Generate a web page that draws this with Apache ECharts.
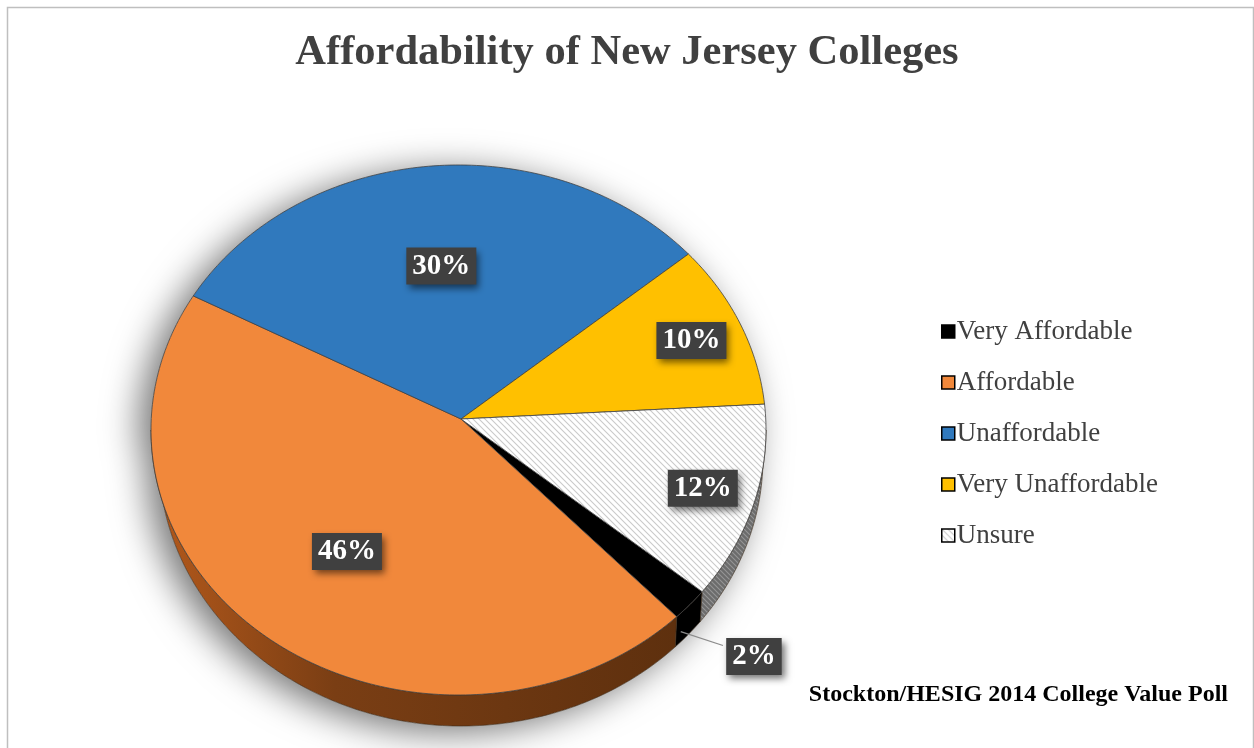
<!DOCTYPE html>
<html>
<head>
<meta charset="utf-8">
<script src="https://cdn.jsdelivr.net/npm/echarts@6/dist/echarts.min.js"></script>
<style>
  html, body { margin: 0; padding: 0; background: #ffffff; }
  #chart { width: 1254px; height: 748px; }
</style>
</head>
<body>
<div id="chart"></div>
<script>
// Survey answers and their shares (percent)
const categories = ['Very Affordable', 'Affordable', 'Unaffordable', 'Very Unaffordable', 'Unsure'];
const shares = [2, 46, 30, 10, 12];

// Pie geometry (pixels / degrees, clockwise from 3 o'clock)
const START_ANGLE = 37.6;
const TOP = { cx: 458.5, cy: 430, rx: 307.5, ry: 265 };   // upper face
const BOT = { cx: 461, cy: 458, rx: 302, ry: 268 };       // lower rim
const APEX = { x: 461, y: 419 };                          // where the slices meet
// how far out along each slice's middle the value box sits (1 = rim)
const labelReach = [1.28, 0.6, 0.605, 0.825, 0.825];

function hatch(bg, line, size, width) {
  const c = document.createElement('canvas');
  c.width = c.height = size;
  const g = c.getContext('2d');
  g.fillStyle = bg; g.fillRect(0, 0, size, size);
  g.strokeStyle = line; g.lineWidth = width;
  g.beginPath();
  g.moveTo(-1, -1); g.lineTo(size + 1, size + 1);
  g.moveTo(-1, size - 1); g.lineTo(1, size + 1);
  g.moveTo(size - 1, -1); g.lineTo(size + 1, 1);
  g.stroke();
  return c;
}

const unsureTop = { image: hatch('#ffffff', '#cacaca', 6, 1.1), repeat: 'repeat' };
const unsureSide = { image: hatch('#6c6c6c', '#959595', 5, 1.1), repeat: 'repeat' };

const topFill = ['#000000', '#F1883B', '#3079BD', '#FFC000', unsureTop];
const sideFill = [
  '#000000',
  { type: 'linear', x: 0, y: 0, x2: 1, y2: 0, global: false,
    colorStops: [{ offset: 0, color: '#b4591b' }, { offset: 0.35, color: '#7a3e14' }, { offset: 1, color: '#5e300e' }] },
  '#1d4f7f', '#b58800', unsureSide
];

// cumulative angles for each slice
const startAngles = [], endAngles = [];
(function () {
  const total = shares.reduce((a, b) => a + b, 0);
  let a = START_ANGLE;
  shares.forEach(v => { startAngles.push(a); a += v / total * 360; endAngles.push(a); });
})();

const rad = d => d * Math.PI / 180;
const onTop = t => [TOP.cx + TOP.rx * Math.cos(rad(t)), TOP.cy + TOP.ry * Math.sin(rad(t))];
const onBot = t => [BOT.cx + BOT.rx * Math.cos(rad(t)), BOT.cy + BOT.ry * Math.sin(rad(t))];
function arc(fn, a, b) {
  const n = Math.max(2, Math.ceil(Math.abs(b - a)));
  const pts = [];
  for (let k = 0; k <= n; k++) pts.push(fn(a + (b - a) * k / n));
  return pts;
}

function renderSlice(params, api) {
  const i = params.seriesIndex;
  const s = api.value(0), e = api.value(1), v = api.value(2);
  const children = [];

  // soft shadow under the whole pie
  if (i === 0) {
    const outline = arc(onTop, 180, 360).concat(arc(onBot, 0, 180));
    children.push({
      type: 'polygon', z2: -10, shape: { points: outline },
      style: { fill: '#ffffff', shadowBlur: 36, shadowColor: 'rgba(0,0,0,0.55)', shadowOffsetX: -12, shadowOffsetY: 6 }
    });
  }

  // visible wall (front half only)
  [[0, 180], [360, 540]].forEach(([lo, hi]) => {
    const a = Math.max(s, lo), b = Math.min(e, hi);
    if (b > a) {
      const pts = arc(onTop, a, b).concat(arc(onBot, b, a));
      children.push({
        type: 'polygon', z2: 0, shape: { points: pts },
        style: { fill: sideFill[i], stroke: '#3a2a1a', lineWidth: 0.6 }
      });
    }
  });

  // upper face
  const face = [[APEX.x, APEX.y]].concat(arc(onTop, s, e));
  children.push({
    type: 'polygon', z2: 10, shape: { points: face },
    style: { fill: topFill[i], stroke: '#404040', lineWidth: 0.8, lineJoin: 'round' }
  });

  // value box
  const mid = (s + e) / 2;
  const rim = onTop(mid);
  const f = labelReach[i];
  const lx = APEX.x + f * (rim[0] - APEX.x);
  const ly = APEX.y + f * (rim[1] - APEX.y);
  if (f > 1) {
    const b = onBot(mid);
    const sx = rim[0] * 0.3 + b[0] * 0.7, sy = rim[1] * 0.3 + b[1] * 0.7;
    children.push({
      type: 'polyline', z2: 25,
      shape: { points: [[sx - 8, sy + 6], [lx - 31, ly - 11]] },
      style: { stroke: '#8c8c8c', lineWidth: 1.3, fill: null }
    });
  }
  children.push({
    type: 'text', z2: 30, x: lx, y: ly,
    style: {
      text: v + '%', fill: '#ffffff',
      font: 'bold 29px "Liberation Serif", "Times New Roman", serif',
      align: 'center', verticalAlign: 'middle',
      backgroundColor: '#404040', padding: [4, 6, 4, 6],
      shadowColor: 'rgba(0,0,0,0.55)', shadowBlur: 7, shadowOffsetX: 3, shadowOffsetY: 4
    }
  });

  return { type: 'group', children };
}

const chart = echarts.init(document.getElementById('chart'), null, { renderer: 'canvas' });

chart.setOption({
  backgroundColor: '#ffffff',
  animation: false,
  title: {
    text: 'Affordability of New Jersey Colleges',
    left: 'center', top: 27,
    textStyle: { fontFamily: '"Liberation Serif", "Times New Roman", serif', fontSize: 42.5, fontWeight: 'bold', color: '#404040' }
  },
  legend: {
    orient: 'vertical', left: 936, top: 313,
    icon: 'rect', itemWidth: 13, itemHeight: 13, itemGap: 24,
    selectedMode: false,
    textStyle: { fontFamily: '"Liberation Serif", "Times New Roman", serif', fontSize: 27, lineHeight: 27, color: '#404040', padding: [0, 0, 0, -3] },
    data: categories.map((name, i) => ({
      name,
      itemStyle: { color: topFill[i], borderColor: '#000000', borderWidth: 1.5 }
    }))
  },
  graphic: [
    {
      type: 'rect', left: 5, top: 5, silent: true,
      shape: { width: 1246, height: 760 },
      style: { fill: null, stroke: '#bfbfbf', lineWidth: 1.5 }
    },
    {
      type: 'text', right: 26, top: 683, silent: true,
      style: {
        text: 'Stockton/HESIG 2014 College Value Poll',
        font: 'bold 24px "Liberation Serif", "Times New Roman", serif', fill: '#000000'
      }
    }
  ],
  series: categories.map((name, i) => ({
    type: 'custom', name,
    coordinateSystem: 'none',
    silent: true,
    itemStyle: { color: topFill[i] },
    renderItem: renderSlice,
    data: [[startAngles[i], endAngles[i], shares[i]]]
  }))
});
</script>
</body>
</html>
